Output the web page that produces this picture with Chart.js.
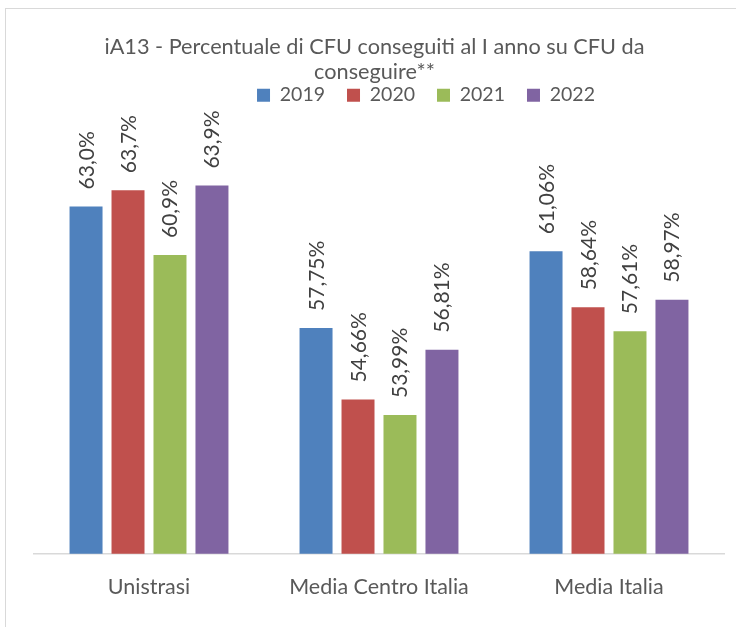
<!DOCTYPE html>
<html><head><meta charset="utf-8">
<script src="https://cdn.jsdelivr.net/npm/chart.js@4/dist/chart.umd.min.js"></script>
<style>
html,body{margin:0;padding:0;background:#fff;overflow:hidden}
#wrap{position:relative;width:736px;height:627px;overflow:hidden}
#frame{position:absolute;left:5px;top:8px;width:780px;height:680px;border:1.5px solid #d9d9d9}
canvas{position:absolute;left:0;top:0}
</style></head><body>
<div id="wrap"><div id="frame"></div><canvas id="c" width="736" height="627"></canvas></div>
<script>
const categories = ['Unistrasi', 'Media Centro Italia', 'Media Italia'];
const seriesNames = ['2019', '2020', '2021', '2022'];
const values2019 = [63.0, 57.75, 61.06];
const values2020 = [63.7, 54.66, 58.64];
const values2021 = [60.9, 53.99, 57.61];
const values2022 = [63.9, 56.81, 58.97];
const labelDecimals = [1, 2, 2];
const colors = ['#4F81BD', '#C0504D', '#9BBB59', '#8064A2'];

const allValues = [values2019, values2020, values2021, values2022];

const barLabels = {
  id: 'barLabels',
  afterDatasetsDraw(chart) {
    const ctx = chart.ctx;
    ctx.save();
    ctx.font = '21px Lato';
    ctx.fillStyle = '#404040';
    ctx.textAlign = 'left';
    ctx.textBaseline = 'alphabetic';
    chart.data.datasets.forEach((ds, i) => {
      const meta = chart.getDatasetMeta(i);
      meta.data.forEach((bar, j) => {
        const txt = ds.data[j].toFixed(labelDecimals[j]).replace('.', ',') + '%';
        ctx.save();
        ctx.translate(bar.x, bar.y - 17);
        ctx.rotate(-Math.PI / 2);
        ctx.fillText(txt, 0, 7.5);
        ctx.restore();
      });
    });
    ctx.restore();
  }
};

const shiftBoxes = {
  id: 'shiftBoxes',
  afterLayout(chart) {
    if (chart.legend) { chart.legend.left += 47; chart.legend.right += 47; }
    if (chart.titleBlock) { chart.titleBlock.left -= 4.5; chart.titleBlock.right -= 4.5; }
  }
};

new Chart(document.getElementById('c'), {
  type: 'bar',
  data: {
    labels: categories,
    datasets: seriesNames.map((name, i) => ({
      label: name,
      data: allValues[i],
      backgroundColor: colors[i],
      borderWidth: 0,
      categoryPercentage: 0.73,
      barPercentage: 0.786
    }))
  },
  options: {
    responsive: false,
    animation: false,
    layout: { padding: { left: 34, right: 12, top: 0, bottom: 7.5 } },
    plugins: {
      tooltip: { enabled: false },
      title: {
        display: true,
        text: ['iA13 - Percentuale di CFU conseguiti al I anno su CFU da', 'conseguire**'],
        color: '#595959',
        font: { family: 'Lato', size: 21.7, weight: 'normal', lineHeight: 1.16 },
        padding: { top: 34.4, bottom: -21.3 }
      },
      legend: {
        display: true,
        position: 'top',
        labels: {
          color: '#595959',
          font: { family: 'Lato', size: 19.5 },
          boxWidth: 13,
          boxHeight: 13,
          padding: 22
        }
      }
    },
    scales: {
      x: {
        grid: { display: false, drawTicks: false },
        border: { display: true, color: '#d9d9d9', width: 1.5 },
        ticks: { color: '#595959', font: { family: 'Lato', size: 21.5, lineHeight: 1.2 }, padding: 20 }
      },
      y: {
        display: false,
        min: 48,
        max: 66.95
      }
    }
  },
  plugins: [barLabels, shiftBoxes]
});
</script>
</body></html>
